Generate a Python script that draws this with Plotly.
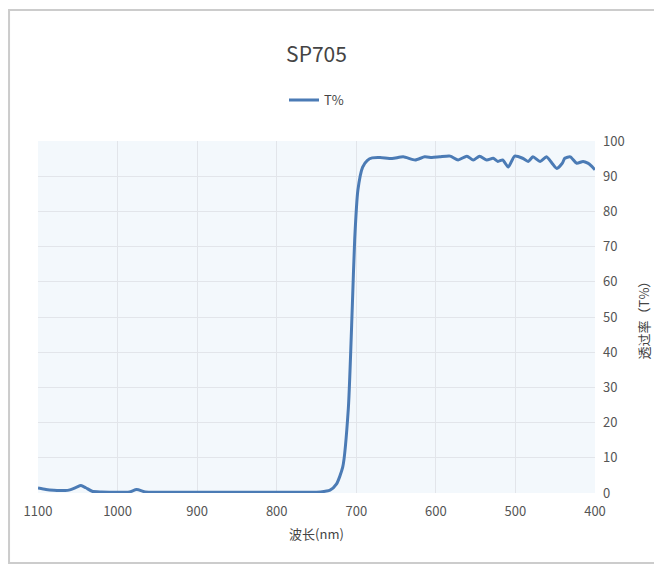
import plotly.graph_objects as go

# datos (longitud de onda en nm, transmitancia en %)
wavelength = [400, 405, 409, 415, 423, 431, 438, 441, 448, 454, 461, 469, 478, 484,
              491, 501, 509, 516, 522, 528, 536, 545, 553, 561, 572, 582, 595, 605,
              614, 626, 641, 655, 670, 680, 686, 692, 698, 702, 705, 710, 717, 725,
              733, 745, 760, 800, 850, 900, 950, 965, 976, 985, 1000, 1020, 1032,
              1040, 1046, 1052, 1060, 1066, 1080, 1090, 1100]
transmit = [91.8, 93.0, 93.7, 94.2, 93.7, 95.5, 95.1, 93.7, 92.2, 93.7, 95.5, 94.2, 95.5, 94.2,
            95.1, 95.7, 92.6, 94.6, 94.2, 95.1, 94.6, 95.7, 94.6, 95.7, 94.6, 95.7, 95.5, 95.3,
            95.5, 94.6, 95.5, 95.0, 95.3, 95.2, 94.5, 92.6, 86.0, 72.0, 53.0, 24.0, 7.4, 2.5,
            0.8, 0.3, 0.2, 0.2, 0.2, 0.2, 0.2, 0.3, 1.0, 0.3, 0.2, 0.3, 0.5,
            1.5, 2.1, 1.6, 0.9, 0.7, 0.8, 1.0, 1.4]

x_ticks = [400, 500, 600, 700, 800, 900, 1000, 1100]
y_ticks = [0, 10, 20, 30, 40, 50, 60, 70, 80, 90, 100]

fuente = "Noto Sans CJK SC"

fig = go.Figure()
fig.add_trace(go.Scatter(x=wavelength, y=transmit, mode="lines", name="T%",
                         line=dict(color="#4b7bb5", width=3, shape="spline", smoothing=0.6)))

# la pagina tiene 8px de margen en el body, por eso la figura es 654x558
fig.update_layout(
    width=654, height=558,
    paper_bgcolor="white", plot_bgcolor="#f3f8fc",
    margin=dict(l=30, r=67, t=133, b=73),
    font=dict(family=fuente, size=13, color="#555555"),
    title=dict(text="SP705", x=0.5, xref="paper", y=0.916, yanchor="middle",
               font=dict(family=fuente, size=21, color="#444444")),
    legend=dict(orientation="h", x=0.5, xanchor="center", y=1.116, yanchor="middle",
                font=dict(size=13, color="#444444"), bgcolor="rgba(0,0,0,0)"),
    showlegend=True,
)

fig.update_xaxes(range=[1100, 400], tickvals=x_ticks, showgrid=True, gridcolor="#e2e5ea",
                 zeroline=False, showline=False, ticks="", ticklabelstandoff=9,
                 title=dict(text="波长(nm)", font=dict(size=13, color="#444444"), standoff=10))
fig.update_yaxes(range=[0, 100], tickvals=y_ticks, side="right", showgrid=True,
                 gridcolor="#e2e5ea", zeroline=False, showline=False, ticks="",
                 ticklabelstandoff=7,
                 title=dict(text="透过率（T%）", font=dict(size=13, color="#444444"), standoff=16))

# borde del contenedor
fig.add_shape(type="rect", xref="paper", yref="paper",
              x0=-0.052, x1=1.118, y0=-0.199, y1=1.372,
              line=dict(color="#cccccc", width=2), fillcolor="rgba(0,0,0,0)", layer="above")

fig.write_html("out.html")
